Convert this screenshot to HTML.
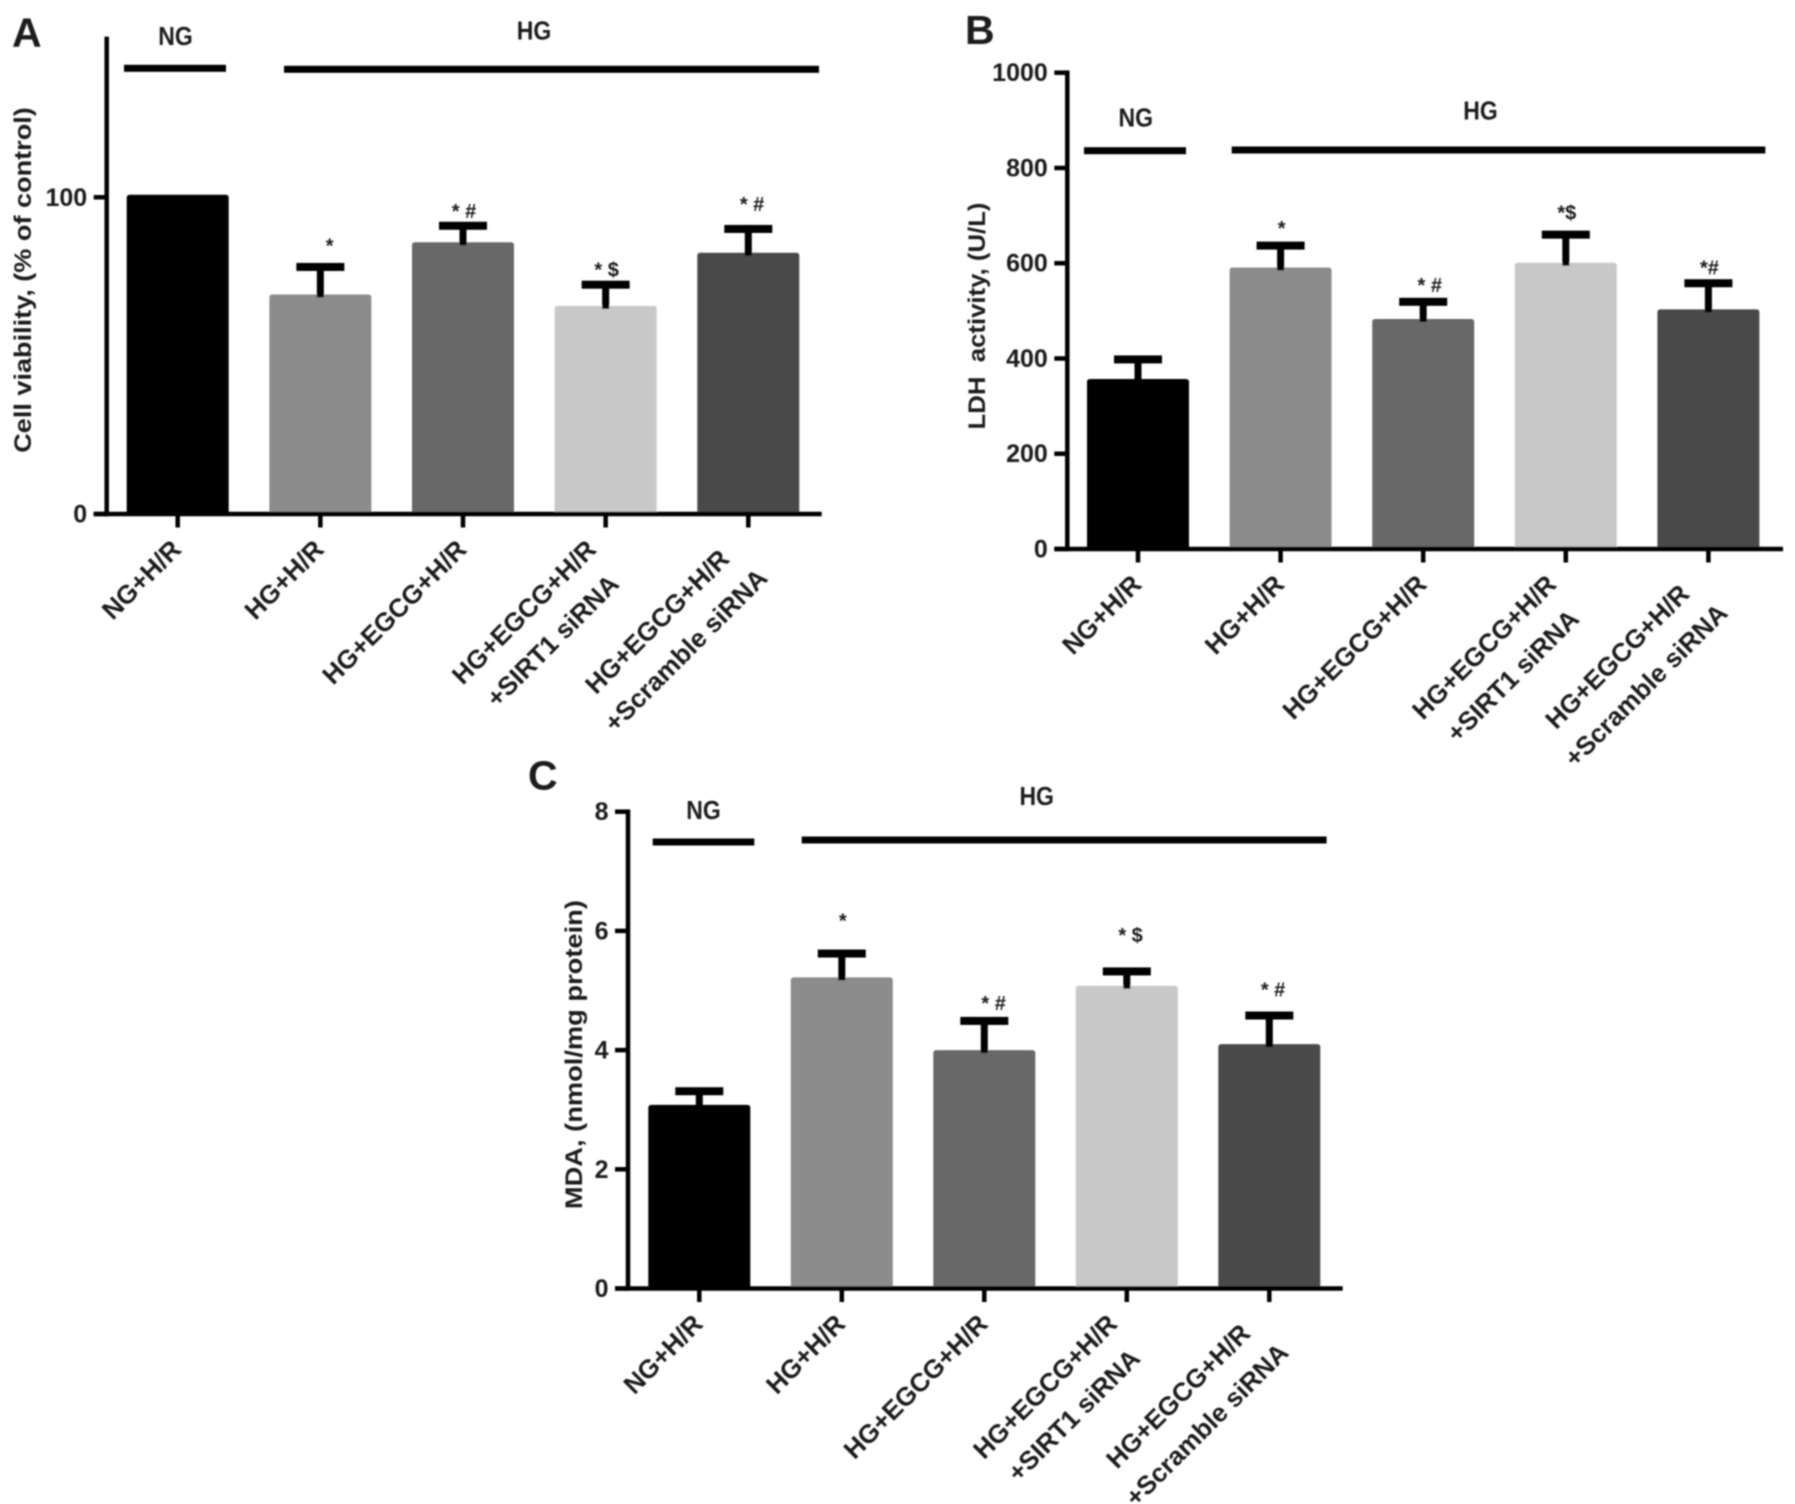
<!DOCTYPE html>
<html lang="en">
<head>
<meta charset="utf-8">
<title>Cell viability, LDH activity and MDA bar charts</title>
<style>
html,body{margin:0;padding:0;background:#fff;overflow:hidden;}
svg{display:block;}
text{font-family:"Liberation Sans",Arial,sans-serif;font-weight:bold;fill:#1a1a1a;white-space:pre;}
</style>
</head>
<body>
<svg id="figure" xmlns="http://www.w3.org/2000/svg" width="1795" height="1504" viewBox="0 0 1795 1504">
<defs><filter id="soft" x="-2%" y="-2%" width="104%" height="104%"><feGaussianBlur stdDeviation="0.8"/></filter></defs>
<g id="root" filter="url(#soft)"></g>
</svg>
<script>
const categories = [["NG+H/R"], ["HG+H/R"], ["HG+EGCG+H/R"], ["HG+EGCG+H/R", "+SIRT1 siRNA"], ["HG+EGCG+H/R", "+Scramble siRNA"]];
const barColors = ["#000000", "#8c8c8c", "#686868", "#c8c8c8", "#4a4a4a"];

const viabilityValues = [100.8, 69.3, 85.8, 65.7, 82.5];
const viabilityErrors = [0, 78, 91, 72.4, 90];
const viabilityTicks = [0, 100];
const viabilitySig = ["", "   *", "* #", "* $", " * #"];
const viabilitySigLevels = [0, 82.5, 93.5, 75, 95.7];

const ldhValues = [357, 591, 483, 601, 503];
const ldhErrors = [398, 637, 519, 660, 558];
const ldhTicks = [0, 200, 400, 600, 800, 1000];
const ldhSig = ["", "*", "  * #", "*$", "*#"];
const ldhSigLevels = [0, 659, 540, 692, 576];

const mdaValues = [3.08, 5.22, 4, 5.08, 4.1];
const mdaErrors = [3.31, 5.62, 4.49, 5.32, 4.58];
const mdaTicks = [0, 2, 4, 6, 8];
const mdaSig = ["", "*", "   * #", " * $", " * #"];
const mdaSigLevels = [0, 6.06, 4.67, 5.81, 4.9];

const NS = "http://www.w3.org/2000/svg";
const root = document.getElementById("root");

function make(tag, attrs, parent) {
  const el = document.createElementNS(NS, tag);
  for (const k in attrs) el.setAttribute(k, attrs[k]);
  parent.appendChild(el);
  return el;
}

function drawPanel(p) {
  const g = make("g", {}, root);
  
  

  const yScale = v => p.y0 - (v / p.yMax) * (p.y0 - p.yTop);
  const xScale = i => p.x0 + i * p.step;

  const letter = make("text", {x: p.letterX, y: p.letterY, "font-size": 41}, g);
  letter.textContent = p.letter;
  
  

  // bars + error bars
  p.values.forEach((v, i) => {
    const top = yScale(v);
    const cx = xScale(i);
    const bar = make("path", {
      d: `M${cx - 51} ${p.y0} V${top + 3} Q${cx - 51} ${top} ${cx - 48} ${top} H${cx + 48} Q${cx + 51} ${top} ${cx + 51} ${top + 3} V${p.y0} Z`,
      fill: barColors[i]
    }, g);
    
    

    const errTop = yScale(p.errors[i]);
    if (p.errors[i] > v) {
      const stem = make("rect", {x: cx - 3.5, y: errTop, width: 7, height: top - errTop + 3, fill: "#000"}, g);
      
      
      const cap = make("rect", {x: cx - 24, y: errTop - 4, width: 48, height: 8, fill: "#000"}, g);
      
      
    }
    if (p.sig[i]) {
      const s = make("text", {x: cx + 1, y: yScale(p.sigLevels[i]), "font-size": 20, "text-anchor": "middle"}, g);
      s.textContent = p.sig[i];
      
      
    }
  });

  // axes
  const yAxis = make("rect", {x: p.yAxisX - 2.25, y: p.yTop - 2.25, width: 4.5, height: p.y0 - p.yTop + 4.5, fill: "#000"}, g);
  
  
  const xAxis = make("rect", {x: p.yAxisX - 13, y: p.y0 - 2.25, width: p.xAxisEnd - p.yAxisX + 13, height: 4.5, fill: "#000"}, g);
  
  

  // y ticks
  p.ticks.forEach(t => {
    const y = yScale(t);
    const tick = make("rect", {x: p.yAxisX - 13, y: y - 2.25, width: 13, height: 4.5, fill: "#000"}, g);
    
    
    const lab = make("text", {x: p.yAxisX - 19.5, y: y + 8.5, "font-size": 25, "text-anchor": "end"}, g);
    lab.textContent = String(t);
    
    
  });

  // y title
  const title = make("text", {
    transform: `translate(${p.titleX} ${p.titleY}) rotate(-90)`,
    "font-size": 24.5, "text-anchor": "middle", textLength: p.titleLen, lengthAdjust: "spacingAndGlyphs"
  }, g);
  title.textContent = p.title;
  
  

  // x ticks and rotated labels
  categories.forEach((lines, i) => {
    const tick = make("rect", {x: xScale(i) - 2.25, y: p.y0, width: 4.5, height: 13.5, fill: "#000"}, g);
    
    

    const shiftX = lines.length > 1 ? -8 : 5;
    const lg = make("g", {transform: `translate(${xScale(i) + shiftX} ${p.y0 + 37}) rotate(-45)`}, g);
    
    
    const els = lines.map((line, k) => {
      const t = make("text", {x: 0, y: k * 40.5, "font-size": 26, "text-anchor": "middle"}, lg);
      t.textContent = line;
      return t;
    });
    const blockW = Math.max(...els.map(e => e.getComputedTextLength()));
    els.forEach(e => e.setAttribute("x", -blockW / 2));
  });

  // group brackets
  p.groups.forEach(b => {
    const line = make("rect", {x: b.x1, y: b.y - 3.5, width: b.x2 - b.x1, height: 7, fill: "#000"}, g);
    
    
    const t = make("text", {x: b.tx, y: b.ty, "font-size": 26, "text-anchor": "middle", textLength: 34.5, lengthAdjust: "spacingAndGlyphs"}, g);
    t.textContent = b.name;
    
    
  });
}

drawPanel({
  id: "viability", letter: "A", letterX: 12, letterY: 46.5,
  values: viabilityValues, errors: viabilityErrors, ticks: viabilityTicks, sig: viabilitySig, sigLevels: viabilitySigLevels,
  yMax: 150, yTop: 38.9, y0: 514, yAxisX: 106.7, xAxisEnd: 821.7, x0: 177.7, step: 142.65,
  title: "Cell viability, (% of control)", titleX: 31, titleY: 280, titleLen: 345.6,
  groups: [
    {name: "NG", x1: 124, x2: 226, y: 68.3, tx: 175.5, ty: 45},
    {name: "HG", x1: 284, x2: 819, y: 69.3, tx: 534, ty: 39.5}
  ]
});
drawPanel({
  id: "ldh", letter: "B", letterX: 965, letterY: 44,
  values: ldhValues, errors: ldhErrors, ticks: ldhTicks, sig: ldhSig, sigLevels: ldhSigLevels,
  yMax: 1000, yTop: 72.7, y0: 549, yAxisX: 1067.3, xAxisEnd: 1783, x0: 1138, step: 142.6,
  title: "LDH  activity, (U/L)", titleX: 985, titleY: 316, titleLen: 227,
  groups: [
    {name: "NG", x1: 1084, x2: 1186, y: 150.7, tx: 1135.8, ty: 126.7},
    {name: "HG", x1: 1231.7, x2: 1765.3, y: 150, tx: 1480.5, ty: 119.5}
  ]
});
drawPanel({
  id: "mda", letter: "C", letterX: 528, letterY: 789.5,
  values: mdaValues, errors: mdaErrors, ticks: mdaTicks, sig: mdaSig, sigLevels: mdaSigLevels,
  yMax: 8, yTop: 811.7, y0: 1288.5, yAxisX: 628, xAxisEnd: 1342.7, x0: 699.3, step: 142.5,
  title: "MDA, (nmol/mg protein)", titleX: 582, titleY: 1054.6, titleLen: 309,
  groups: [
    {name: "NG", x1: 652.7, x2: 754.3, y: 842, tx: 703.5, ty: 819},
    {name: "HG", x1: 801.7, x2: 1326.6, y: 840, tx: 1036.7, ty: 805}
  ]
});
</script>
</body>
</html>
